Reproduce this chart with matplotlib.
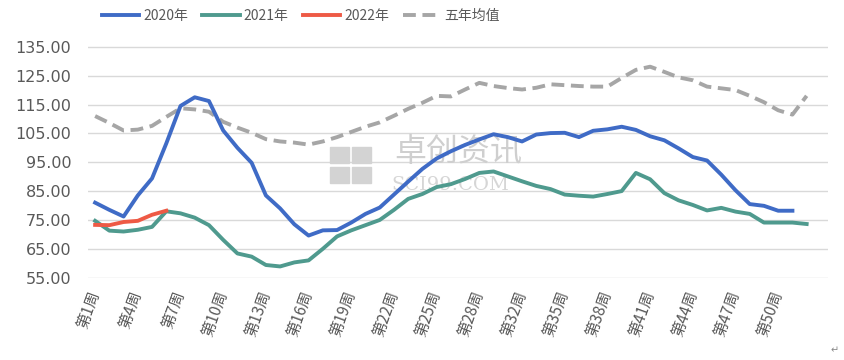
import matplotlib
matplotlib.use("Agg")
import matplotlib.pyplot as plt
from matplotlib.patches import Rectangle

plt.rcParams['font.family'] = ['Noto Sans CJK SC', 'DejaVu Sans']

weeks = ([f"第{i}周" for i in range(1, 29)] + ["第30周", "第31周"]
         + [f"第{i}周" for i in range(32, 54)])

y2020 = [81.0, 78.5, 76.2, 83.5, 89.4, 101.5, 114.5, 117.5, 116.2, 106.0,
         100.0, 94.8, 83.5, 79.0, 73.5, 69.6, 71.4, 71.5, 74.1, 77.1,
         79.3, 83.8, 88.3, 92.7, 96.3, 98.8, 101.0, 102.9, 104.7, 103.7,
         102.2, 104.6, 105.1, 105.2, 103.7, 105.9, 106.4, 107.3, 106.2, 104.0,
         102.6, 99.8, 96.8, 95.6, 90.7, 85.3, 80.5, 79.9, 78.2, 78.2]
y2021 = [74.7, 71.3, 71.0, 71.6, 72.6, 78.0, 77.3, 75.8, 73.2, 68.1,
         63.4, 62.3, 59.4, 58.9, 60.3, 61.0, 65.0, 69.3, 71.4, 73.2,
         75.0, 78.5, 82.3, 84.0, 86.4, 87.4, 89.2, 91.3, 91.8, 90.1,
         88.4, 86.8, 85.7, 83.8, 83.4, 83.1, 84.0, 85.0, 91.3, 89.1,
         84.3, 81.8, 80.2, 78.3, 79.2, 77.9, 77.1, 74.1, 74.1, 74.1, 73.6]
y2022 = [73.3, 73.2, 74.3, 74.7, 76.8, 78.2]
avg5 = [111.0, 108.6, 106.0, 106.3, 107.6, 110.7, 113.7, 113.3, 112.5, 109.0,
        107.0, 105.2, 103.0, 102.2, 101.8, 101.1, 102.2, 103.7, 105.5, 107.3,
        108.8, 111.1, 113.5, 115.6, 118.0, 117.8, 120.2, 122.5, 121.4, 120.7,
        120.2, 120.8, 122.0, 121.7, 121.4, 121.2, 121.2, 124.2, 127.0, 128.1,
        126.3, 124.4, 123.4, 121.2, 120.6, 120.0, 118.0, 115.8, 113.0, 111.5, 118.0]

series_names = ["2020年", "2021年", "2022年", "五年均值"]
yticks = [55, 65, 75, 85, 95, 105, 115, 125, 135]

fig = plt.figure(figsize=(8.45, 3.6), dpi=100)
ax = fig.add_axes([88 / 845, 1 - 277.7 / 360, (828 - 88) / 845, (277.7 - 41) / 360])

lw = 2.8
ax.plot(range(len(y2020)), y2020, color="#3F6BC6", lw=lw, solid_joinstyle="round",
        label=series_names[0], zorder=4)
ax.plot(range(len(y2021)), y2021, color="#4F9A8E", lw=lw, solid_joinstyle="round",
        label=series_names[1], zorder=3)
ax.plot(range(len(y2022)), y2022, color="#EE5A45", lw=lw, solid_joinstyle="round",
        label=series_names[2], zorder=5)
ax.plot(range(len(avg5)), avg5, color="#A6A6A6", lw=lw, dashes=(3.3, 1.7),
        dash_capstyle="butt", label=series_names[3], zorder=2)

ax.set_xlim(-0.5, len(weeks) - 0.5)
ax.set_ylim(55, 137)
ax.set_yticks(yticks)
ax.set_yticklabels([f"{v:.2f}" for v in yticks], fontsize=11.5, color="#595959",
                   family=['DejaVu Sans'])
tick_idx = list(range(0, 49, 3))
ax.set_xticks(tick_idx)
ax.set_xticklabels([weeks[i] for i in tick_idx], rotation=70, ha="right", va="center",
                   rotation_mode="anchor", fontsize=11, color="#595959")
ax.tick_params(axis="both", length=0)
ax.tick_params(axis="y", pad=12)
ax.tick_params(axis="x", pad=10)
for s in ax.spines.values():
    s.set_visible(False)
ax.yaxis.grid(True, color="#D9D9D9", lw=1)
ax.set_axisbelow(True)

# watermark
ax.text(0.50, 0.53, "卓创资讯", transform=ax.transAxes, fontsize=23, color="#CFCFCF",
        ha="center", va="center", zorder=1)
ax.text(0.49, 0.39, "SCI99.COM", transform=ax.transAxes, fontsize=14, color="#D6D6D6",
        ha="center", va="center", family=['DejaVu Serif'], zorder=1)
for (fx, fy) in [(330, 147), (352, 147), (330, 167), (352, 167)]:
    fig.patches.append(Rectangle((fx / 845, 1 - (fy + 16) / 360), 19 / 845, 16 / 360,
                                 transform=fig.transFigure, color="#D3D3D3", zorder=1))

leg = fig.legend(loc="center", bbox_to_anchor=(301 / 845, 1 - 16 / 360), ncol=4,
                 frameon=False, fontsize=10, handlelength=2.7, handletextpad=0.3,
                 columnspacing=1.0)
for t in leg.get_texts():
    t.set_color("#595959")

fig.text(835 / 845, 1 - 350 / 360, "↵", fontsize=7, color="#888888",
         ha="center", va="center", family=['DejaVu Sans'])

fig.savefig("out.png", dpi=100)
